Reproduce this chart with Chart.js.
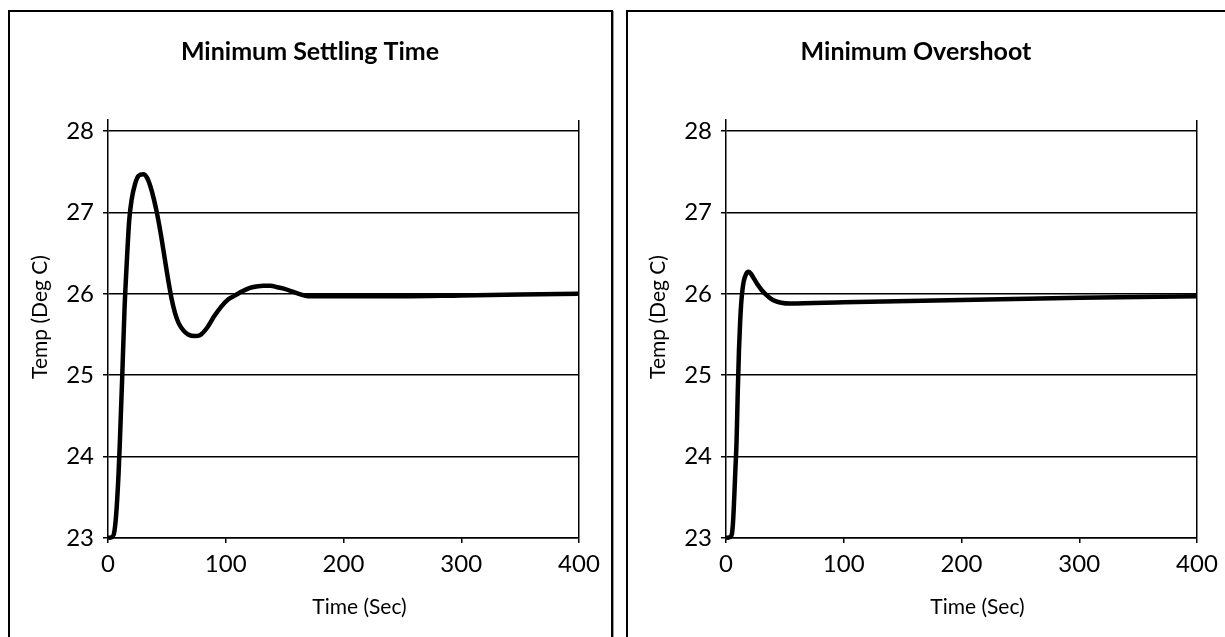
<!DOCTYPE html>
<html>
<head>
<meta charset="utf-8">
<script src="https://cdn.jsdelivr.net/npm/chart.js@4/dist/chart.umd.min.js"></script>
<style>
    html, body { margin: 0; padding: 0; background: #fff; overflow: hidden; }
    body { width: 1225px; height: 637px; position: relative; }
    .panel {
        position: absolute;
        top: 10px;
        height: 640px;
        border: 2px solid #000;
        box-shadow: 1px 1px 0 #999;
        background: #fff;
    }
    #panelLeft { left: 8px; width: 601px; }
    #panelRight { left: 626px; width: 620px; }
    .panel canvas { position: absolute; left: 0; top: 0; }
</style>
</head>
<body>
<div class="panel" id="panelLeft"><canvas id="settlingChart" width="601" height="625"></canvas></div>
<div class="panel" id="panelRight"><canvas id="overshootChart" width="597" height="625"></canvas></div>
<script>
// 时间 (秒) / 温度 (°C) —— 数值
const settlingTime = [0, 3, 5, 7, 9, 10, 12, 14, 16, 18, 20, 23, 26, 30, 33, 36, 39, 42, 45, 48, 51, 54, 57, 60, 64, 68, 74, 78, 84, 90, 96, 102, 108, 114, 120, 126, 132, 138, 144, 150, 156, 162, 170, 200, 250, 300, 350, 400];
const settlingTemp = [23.00, 23.01, 23.05, 23.3, 23.8, 24.15, 24.95, 25.8, 26.4, 26.9, 27.15, 27.35, 27.45, 27.47, 27.43, 27.32, 27.16, 26.96, 26.72, 26.45, 26.18, 25.94, 25.76, 25.64, 25.55, 25.50, 25.48, 25.49, 25.58, 25.72, 25.84, 25.93, 25.98, 26.03, 26.07, 26.09, 26.10, 26.10, 26.08, 26.06, 26.03, 26.00, 25.97, 25.97, 25.97, 25.98, 25.99, 26.00];

const overshootTime = [0, 3, 5, 6, 7, 8, 9, 10, 11, 12, 13, 14, 15, 17, 19, 21, 24, 27, 30, 34, 38, 42, 47, 54, 100, 200, 300, 400];
const overshootTemp = [23.00, 23.01, 23.05, 23.2, 23.5, 23.85, 24.2, 24.8, 25.3, 25.65, 25.9, 26.05, 26.15, 26.24, 26.27, 26.25, 26.18, 26.11, 26.05, 25.99, 25.94, 25.91, 25.89, 25.88, 25.895, 25.925, 25.95, 25.97];

const xTicks = [0, 100, 200, 300, 400];
const yTicks = [23, 24, 25, 26, 27, 28];

const FONT = 'Lato, "Open Sans", sans-serif';

// 坐标轴标题：参考图里略微偏离中心，自己画
const axisTitlePlugin = {
    id: 'axisTitles',
    afterDraw(chart, args, opts) {
        const { ctx, chartArea } = chart;
        ctx.save();
        ctx.fillStyle = '#000';
        ctx.font = '21px ' + FONT;
        ctx.textAlign = 'center';
        ctx.textBaseline = 'middle';
        ctx.fillText(opts.xText, (chartArea.left + chartArea.right) / 2 + 16, 595);
        ctx.translate(30, 305);
        ctx.rotate(-Math.PI / 2);
        ctx.fillText(opts.yText, 0, 0);
        ctx.restore();
    }
};

function makeChart(id, titleText, times, temps, lay) {
    const ctx = document.getElementById(id).getContext('2d');
    const points = times.map((t, i) => ({ x: t, y: temps[i] }));

    return new Chart(ctx, {
        type: 'line',
        data: {
            datasets: [{
                data: points,
                borderColor: '#000',
                borderWidth: 4.5,
                pointRadius: 0,
                cubicInterpolationMode: 'monotone',
                fill: false,
                clip: 8
            }]
        },
        plugins: [axisTitlePlugin],
        options: {
            responsive: false,
            animation: false,
            layout: { padding: { left: lay.left, right: lay.right, top: 0, bottom: 0 } },
            plugins: {
                legend: { display: false },
                tooltip: { enabled: false },
                title: {
                    display: true,
                    text: titleText,
                    color: '#000',
                    font: { family: FONT, size: 25, weight: 'bold', lineHeight: 1.2 },
                    padding: { top: 25, bottom: 53 }
                },
                axisTitles: { xText: 'Time (Sec)', yText: 'Temp (Deg C)' }
            },
            scales: {
                x: {
                    type: 'linear',
                    min: 0,
                    max: 400,
                    afterBuildTicks: (scale) => { scale.ticks = xTicks.map(v => ({ value: v })); },
                    afterFit: (scale) => { scale.height = 99; },
                    ticks: {
                        color: '#000',
                        font: { family: FONT, size: 24 },
                        padding: 7,
                        maxRotation: 0
                    },
                    grid: {
                        color: (c) => c.tick && c.tick.value === 400 ? '#000' : 'rgba(0,0,0,0)',
                        tickColor: '#000',
                        lineWidth: 1.5,
                        tickLength: 5
                    },
                    border: { display: true, color: '#000', width: 1.5 }
                },
                y: {
                    min: 23,
                    max: 28.135,
                    afterBuildTicks: (scale) => { scale.ticks = yTicks.map(v => ({ value: v })); },
                    afterFit: (scale) => { scale.width = lay.axisWidth; },
                    ticks: {
                        color: '#000',
                        font: { family: FONT, size: 24 },
                        padding: 9
                    },
                    grid: {
                        color: '#000',
                        lineWidth: 1.5,
                        tickLength: 5
                    },
                    border: { display: true, color: '#000', width: 1.5 }
                }
            }
        }
    });
}

makeChart('settlingChart', 'Minimum Settling Time', settlingTime, settlingTemp,
    { left: 31, right: 32, axisWidth: 67 });
makeChart('overshootChart', 'Minimum Overshoot', overshootTime, overshootTemp,
    { left: 7, right: 28, axisWidth: 91 });
</script>
</body>
</html>
